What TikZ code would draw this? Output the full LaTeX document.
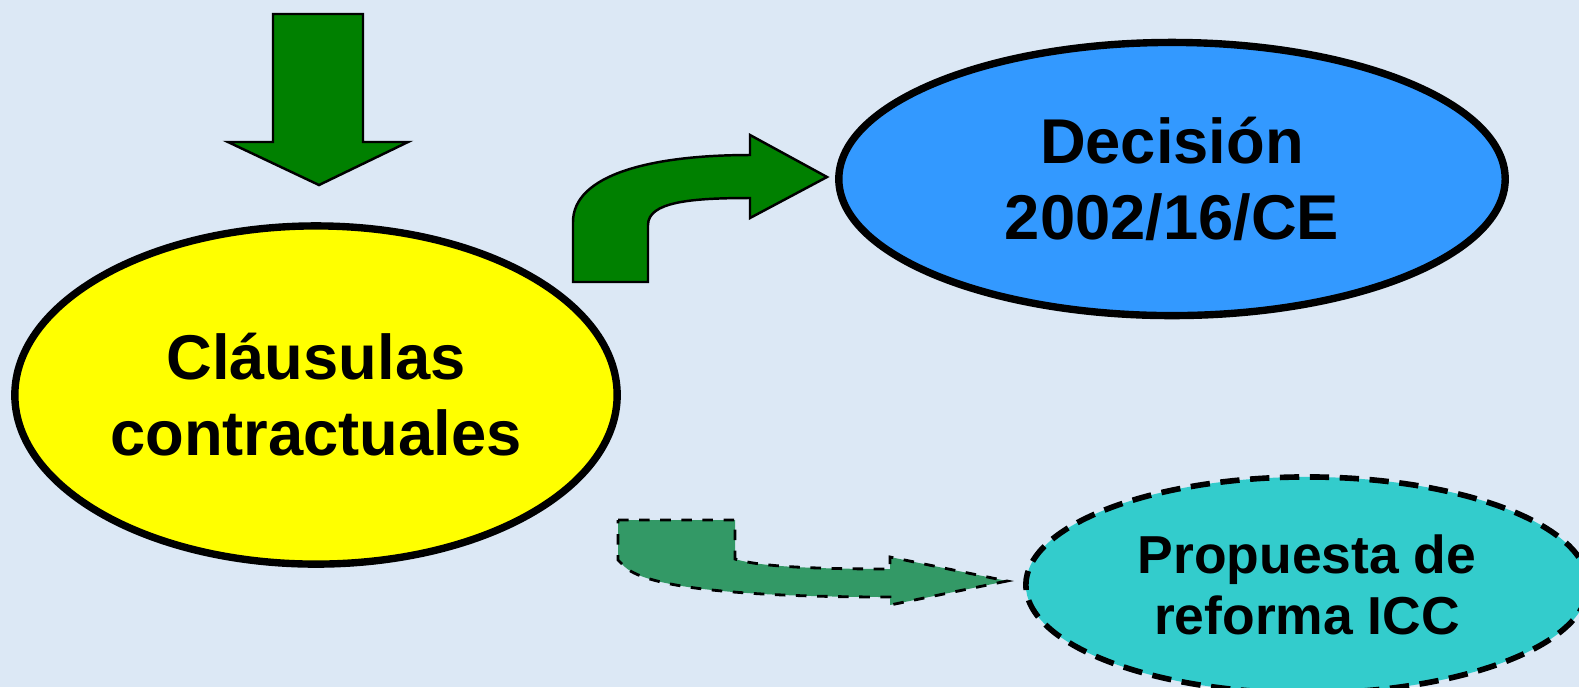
\documentclass[tikz,border=0pt]{standalone}
\usepackage{fontspec}
\setmainfont{Liberation Sans}
\usepackage{xcolor}
\usetikzlibrary{shapes.geometric}

\definecolor{fondo}{RGB}{220,232,245}
\definecolor{verde}{RGB}{0,128,0}
\definecolor{verdemar}{RGB}{51,153,102}
\definecolor{amarillo}{RGB}{255,255,0}
\definecolor{azul}{RGB}{51,153,255}
\definecolor{turquesa}{RGB}{51,204,204}

\tikzset{
	burbuja/.style={ellipse,draw=black,line width=2.1pt,align=center,
		font=\bfseries\fontsize{18}{21.6}\selectfont,inner sep=0pt},
	flecha/.style={fill=verde,draw=black,line width=0.7pt,line join=miter},
}

\begin{document}
\begin{tikzpicture}[x=0.01cm,y=-0.01cm]
			% fondo
			\fill[fondo] (0,0) rectangle (1579,687);
			\useasboundingbox (0,0) rectangle (1579,687);
			\clip (0,0) rectangle (1579,687);

			% burbujas
			\node[burbuja,fill=amarillo,minimum width=6.02cm,minimum height=3.38cm]
				(clausulas) at (316,395) {Cláusulas\\contractuales};
			\node[burbuja,fill=azul,minimum width=6.66cm,minimum height=2.73cm]
				(decision) at (1172,179) {Decisión\\2002/16/CE};
			\node[burbuja,fill=turquesa,line width=1.6pt,dash pattern=on 5.5pt off 3pt,
				minimum width=5.62cm,minimum height=2.16cm,
				font=\bfseries\fontsize{15.2}{17.4}\selectfont]
				(propuesta) at (1307,585) {Propuesta de\\reforma ICC};

			% flecha hacia abajo
			\draw[flecha] (273,14) -- (363,14) -- (363,142) -- (408,142) -- (319,185)
				-- (228,142) -- (273,142) -- cycle;

			% flecha curva hacia la decision
			\draw[flecha] (573,282) -- (573,222) .. controls (573,175) and (650,155) .. (750,155)
				-- (750,135) -- (827,177) -- (750,218) -- (750,198)
				.. controls (690,198) and (648,202) .. (648,225) -- (648,282) -- cycle;

			% flecha discontinua hacia la propuesta
			\draw[flecha,fill=verdemar,dashed,line width=0.8pt] (618,520) -- (735,520) -- (735,559)
				.. controls (760,567) and (820,569) .. (890,569)
				-- (890,557) -- (1007,581) -- (890,605) -- (890,597)
				.. controls (760,597) and (650,590) .. (625,567) -- (618,560) -- cycle;
		\end{tikzpicture}
\end{document}
